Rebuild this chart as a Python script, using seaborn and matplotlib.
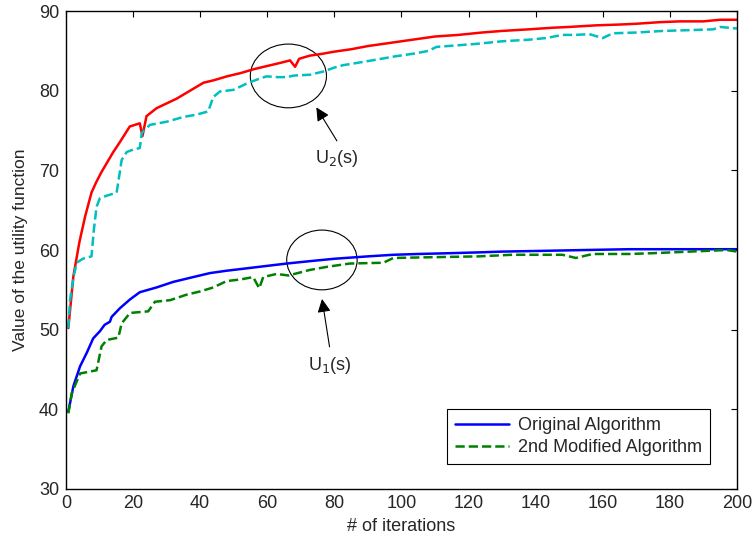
import numpy as np
import pandas as pd
import matplotlib
matplotlib.use("Agg")
import matplotlib.pyplot as plt
from matplotlib.patches import Ellipse
import seaborn as sns

# U2(s) - original algorithm (red) and modified (cyan dashed)
u2_orig_it = [0.7, 2.2, 4, 5.7, 7.6, 9, 10.6, 12, 14.1, 16, 19, 22, 22.8, 24, 27, 30, 33, 37, 41, 44,
              48, 52, 56, 60, 64, 66.8, 68.3, 69.5, 72.7, 76, 80, 85, 90, 95, 100, 105, 110, 117, 124,
              130, 138, 145, 150, 158, 165, 170, 177, 183, 190, 195, 200]
u2_orig_val = [50.2, 56.7, 61.0, 64.2, 67.2, 68.5, 69.8, 70.8, 72.3, 73.5, 75.5, 75.9, 74.3, 76.8, 77.8,
               78.4, 79.0, 80.0, 81.0, 81.3, 81.8, 82.2, 82.7, 83.1, 83.5, 83.8, 83.0, 84.0, 84.4, 84.6,
               84.9, 85.2, 85.6, 85.9, 86.2, 86.5, 86.8, 87.0, 87.3, 87.5, 87.7, 87.9, 88.0, 88.2, 88.3,
               88.4, 88.6, 88.7, 88.7, 88.9, 88.9]

u2_mod_it = [0.7, 1.2, 2.2, 3.2, 5, 7.6, 8.3, 9.1, 10.1, 12, 15.1, 16.6, 18.1, 20, 22, 22.6, 25, 30, 35,
             39, 42.4, 43.9, 45.9, 49.9, 53.9, 57, 59.8, 63, 65.8, 68, 72.7, 76.7, 80, 82.6, 87, 92.6,
             98, 104.5, 108, 110.5, 117, 123, 130, 138, 143, 148, 152, 156, 160, 163, 170, 178, 186,
             193, 195, 200]
u2_mod_val = [50.2, 53.7, 56.5, 58.4, 58.9, 59.2, 62.5, 65.4, 66.5, 66.8, 67.2, 71.3, 72.3, 72.6, 72.8,
              74.7, 75.7, 76.1, 76.7, 77.0, 77.4, 79.2, 79.9, 80.1, 80.9, 81.4, 81.8, 81.7, 81.7, 81.9,
              82.0, 82.4, 82.9, 83.2, 83.5, 83.9, 84.3, 84.7, 85.0, 85.5, 85.7, 85.9, 86.2, 86.4, 86.6,
              87.0, 87.0, 87.1, 86.6, 87.2, 87.3, 87.5, 87.6, 87.7, 88.0, 87.8]

# U1(s) - original algorithm (blue) and 2nd modified (green dashed)
u1_orig_it = [0.7, 2.2, 4.2, 6.2, 8.1, 10.1, 11.5, 13.1, 13.6, 16.1, 19.1, 22, 27, 32, 37.9, 42.9, 47.9,
              53.9, 59.8, 65.8, 72.7, 80, 90, 97.6, 105, 114.5, 123, 130, 143, 155, 168, 180, 190, 200]
u1_orig_val = [39.7, 42.9, 45.4, 47.1, 48.9, 49.8, 50.6, 51.0, 51.6, 52.7, 53.8, 54.7, 55.3, 56.0, 56.6,
               57.1, 57.4, 57.7, 58.0, 58.3, 58.6, 58.9, 59.2, 59.4, 59.5, 59.6, 59.7, 59.8, 59.9, 60.0,
               60.1, 60.1, 60.1, 60.1]

u1_mod_it = [0.7, 1.7, 4.2, 9.1, 10.6, 12.1, 15.6, 16.6, 19.1, 24.5, 26.5, 31, 36, 40, 43.9, 47.9, 52,
             55.8, 57.6, 58.8, 62.8, 66.3, 72.7, 78, 84.6, 94.6, 97.6, 109.5, 123, 133, 148, 152, 157,
             168, 175, 186, 197, 200]
u1_mod_val = [39.5, 42.0, 44.5, 44.9, 47.9, 48.7, 49.0, 50.8, 52.1, 52.3, 53.5, 53.7, 54.4, 54.8, 55.3,
              56.1, 56.3, 56.6, 55.2, 56.6, 57.0, 56.8, 57.5, 57.9, 58.3, 58.4, 59.0, 59.1, 59.2, 59.4,
              59.4, 59.0, 59.5, 59.5, 59.6, 59.8, 60.0, 59.8]

sns.set_style("white")
plt.rcParams["font.family"] = ["Liberation Sans", "DejaVu Sans"]
plt.rcParams["xtick.direction"] = "in"
plt.rcParams["ytick.direction"] = "in"

fig = plt.figure(figsize=(7.55, 5.37), dpi=100)
ax = fig.add_axes([0.0874, 0.0894, 0.8886, 0.8901])

lw = 1.8
sns.lineplot(x=u2_orig_it, y=u2_orig_val, color="#ff0000", lw=lw, ax=ax, label="_nolegend_")
sns.lineplot(x=u2_mod_it, y=u2_mod_val, color="#00bfbf", lw=lw, ls="--", ax=ax, label="_nolegend_")
sns.lineplot(x=u1_orig_it, y=u1_orig_val, color="#0000ff", lw=lw, ax=ax, label="Original Algorithm")
sns.lineplot(x=u1_mod_it, y=u1_mod_val, color="#008000", lw=lw, ls="--", ax=ax,
             label="2nd Modified Algorithm")

ax.set_xlim(0, 200)
ax.set_ylim(30, 90)
ax.set_xticks(range(0, 201, 20))
ax.set_yticks(range(30, 91, 10))
ax.tick_params(axis="both", which="both", top=True, right=True, length=4, width=0.8,
               labelsize=13, color="black")
ax.tick_params(axis="x", pad=4)
ax.tick_params(axis="y", pad=5)
for s in ax.spines.values():
    s.set_color("black")
    s.set_linewidth(1.0)

ax.set_xlabel("# of iterations", fontsize=13, labelpad=5)
ax.set_ylabel("Value of the utility function", fontsize=12.5, labelpad=8)

# circles and arrows
ax.add_patch(Ellipse((66.3, 81.85), 22.7, 8.0, fill=False, ec="black", lw=0.8))
ax.add_patch(Ellipse((76.3, 58.75), 21.0, 7.5, fill=False, ec="black", lw=0.8))
ax.annotate("", xy=(74.2, 78.2), xytext=(81.2, 73.4),
            arrowprops=dict(arrowstyle="-|>", color="black", lw=0.8, mutation_scale=20))
ax.annotate("", xy=(76.2, 54.2), xytext=(78.7, 47.5),
            arrowprops=dict(arrowstyle="-|>", color="black", lw=0.8, mutation_scale=20))
ax.text(80.7, 71.5, "U$_2$(s)", fontsize=13, ha="center", va="center")
ax.text(78.7, 45.5, "U$_1$(s)", fontsize=13, ha="center", va="center")

leg = ax.legend(loc="lower right", bbox_to_anchor=(0.96, 0.052), borderaxespad=0, fontsize=13,
                frameon=True, fancybox=False, edgecolor="black", framealpha=1, handlelength=3.0,
                handletextpad=0.5, borderpad=0.45, labelspacing=0.25)
leg.get_frame().set_linewidth(0.8)

fig.savefig("out.png", dpi=100)
plt.close()
